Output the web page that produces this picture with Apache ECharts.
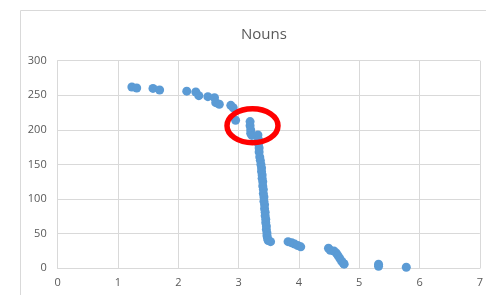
<!DOCTYPE html>
<html>
<head>
<meta charset="utf-8">
<script src="https://cdn.jsdelivr.net/npm/echarts@6/dist/echarts.min.js"></script>
<style>html,body{margin:0;padding:0;background:#fff}#c{width:486px;height:295px}</style>
</head>
<body>
<div id="c"></div>
<script>
const title = 'Nouns';
const xValues = [1.23,1.31,1.58,1.69,2.14,2.29,2.34,2.49,2.60,2.62,2.68,2.87,2.91,2.95,3.19,3.19,3.20,3.20,3.22,3.32,3.33,3.33,3.34,3.34,3.35,3.36,3.37,3.38,3.38,3.39,3.39,3.40,3.40,3.41,3.41,3.42,3.42,3.43,3.43,3.44,3.44,3.45,3.45,3.46,3.46,3.47,3.47,3.48,3.49,3.53,3.82,3.88,3.93,3.98,4.03,4.49,4.52,4.58,4.62,4.65,4.68,4.71,4.74,4.75,5.32,5.32,5.78];
const yValues = [262,260.5,260,257.6,256,254.8,249.5,248,246.5,239.4,237,235.5,232,214,212,206,200,195,192,192.6,186,180,174,168,161,156,150,145,140,135,130,125,119,114,108,103,97,92,86,81,76,71,66,61,56,51,47,43,40,38.5,38.5,37,35,33,31,29,26,25,22,18,14,10,7,6,6,3,1.5];
const highlightCenter = [3.23, 206];

const points = xValues.map((x, i) => [x, yValues[i]]);
const chart = echarts.init(document.getElementById('c'), null, {renderer: 'canvas'});
const font = '"Open Sans", "Liberation Sans", sans-serif';
const border = {
  type: 'rect', shape: {x: 20.5, y: 10.5, width: 600, height: 400},
  style: {fill: 'none', stroke: '#D9D9D9', lineWidth: 1}, silent: true, z: -10
};
chart.setOption({
  animation: false,
  title: {
    text: title, left: 236, top: 22,
    textStyle: {fontFamily: font, fontSize: 15, fontWeight: 'normal', color: '#595959'}
  },
  grid: {left: 57.7, right: 4, top: 60.7, bottom: 26.7},
  xAxis: {
    type: 'value', min: 0, max: 7, interval: 1,
    axisLine: {show: true, lineStyle: {color: '#D9D9D9'}},
    axisTick: {show: false},
    splitLine: {show: true, lineStyle: {color: '#D9D9D9'}},
    axisLabel: {color: '#595959', fontFamily: font, fontSize: 11, margin: 9}
  },
  yAxis: {
    type: 'value', min: 0, max: 300, interval: 50,
    axisLine: {show: true, lineStyle: {color: '#D9D9D9'}},
    axisTick: {show: false},
    splitLine: {show: true, lineStyle: {color: '#D9D9D9'}},
    axisLabel: {color: '#595959', fontFamily: font, fontSize: 11, margin: 11}
  },
  series: [{
    type: 'scatter', data: points, symbolSize: 9,
    itemStyle: {color: '#5B9BD5', opacity: 1}
  }],
  graphic: [border]
});
const c = chart.convertToPixel({gridIndex: 0}, highlightCenter);
chart.setOption({
  graphic: [border, {
    type: 'ellipse', shape: {cx: c[0], cy: c[1], rx: 25.5, ry: 17},
    style: {fill: 'none', stroke: '#FF0000', lineWidth: 5.5}, silent: true, z: 100
  }]
});
</script>
</body>
</html>
